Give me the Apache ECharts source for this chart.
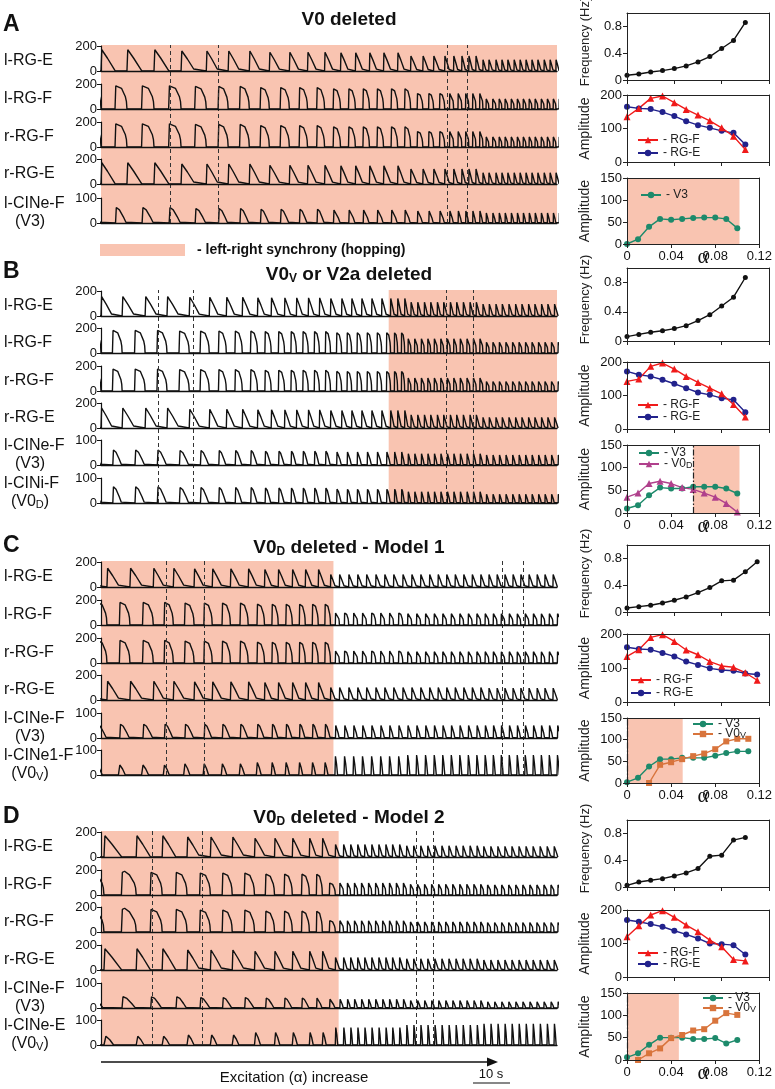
<!DOCTYPE html>
<html lang="en">
<head>
  <meta charset="UTF-8">
  <title>Excitation increase in deletion models</title>
  <style>
    body {
      margin: 0;
      background-color: #fff;
    }
  </style>
  <script src="https://cdn.jsdelivr.net/npm/echarts@6/dist/echarts.min.js"></script>
</head>
<body>
<div id="chart" style="width: 775px; height: 1089px;"></div>
<script>
  // ---------- summary plots (right column): values per alpha step ----------
  const alpha = [0, 0.01, 0.02, 0.03, 0.04, 0.05, 0.06, 0.07, 0.08, 0.09, 0.1, 0.11]

  const freqA = [0.07, 0.09, 0.12, 0.14, 0.17, 0.21, 0.27, 0.35, 0.47, 0.59, 0.86]
  const rgFA = [135, 160, 190, 197, 177, 157, 140, 123, 102, 77, 37]
  const rgEA = [165, 160, 158, 149, 137, 122, 110, 102, 93, 87, 52]
  const v3A = [0, 11, 39, 57, 55, 57, 59, 60, 60, 57, 36]

  const freqB = [0.06, 0.09, 0.12, 0.14, 0.17, 0.21, 0.28, 0.36, 0.48, 0.6, 0.87]
  const rgFB = [142, 149, 187, 197, 179, 157, 139, 122, 105, 73, 36]
  const rgEB = [172, 162, 157, 147, 135, 122, 109, 102, 92, 87, 50]
  const v3B = [10, 17, 39, 56, 54, 54, 58, 58, 58, 54, 43]
  const v0dB = [35, 44, 65, 70, 65, 56, 52, 44, 35, 21, 2]

  const freqC = [0.06, 0.08, 0.1, 0.135, 0.175, 0.225, 0.29, 0.365, 0.465, 0.475, 0.6, 0.75]
  const rgFC = [134, 154, 190, 198, 178, 153, 139, 119, 106, 102, 86, 64]
  const rgEC = [161, 156, 154, 144, 134, 119, 109, 99, 94, 92, 84, 81]
  const v3C = [2, 12, 38, 55, 55, 58, 58, 58, 63, 69, 73, 73]
  const v0vC = [null, null, 0, 42, 48, 55, 62, 68, 78, 96, 102, 102]

  const freqD = [0.025, 0.075, 0.1, 0.125, 0.165, 0.21, 0.275, 0.46, 0.475, 0.7, 0.74]
  const rgFD = [120, 153, 185, 198, 178, 155, 135, 110, 90, 52, 48]
  const rgED = [170, 165, 158, 150, 138, 127, 115, 100, 98, 95, 67]
  const v3D = [6, 15, 34, 50, 50, 50, 47, 47, 49, 37, 45]
  const v0vD = [null, 0, 15, 26, 49, 56, 66, 69, 88, 105, 101]

  // alpha range with left-right synchrony, and its border (dash-dot)
  const hopAlphaA = [0, 0.102]
  const hopAlphaB = [0.06, 0.102]
  const hopAlphaC = [0, 0.0505]
  const hopAlphaD = [0, 0.047]

  // ---------- traces (left): burst onsets in seconds ----------
  const T_MAX = 123
  const onsetA = [0, 7.0, 14.3, 21.6, 28.4, 34.3, 40.0, 45.4, 50.8, 55.7, 60.3, 64.6, 68.6, 72.4, 76.2, 80.0,
    83.5, 86.8, 89.7, 92.7, 95.1, 97.3, 99.2, 101.1, 103.0, 104.6, 106.5, 108.1, 109.7, 111.4, 113.0,
    114.6, 116.2, 117.8, 119.5, 121.1, 122.7]
  const onsetB = [0, 5.7, 11.9, 17.8, 23.8, 29.2, 33.8, 38.1, 42.2, 45.9, 49.5, 52.7, 55.9, 58.9, 61.9, 64.9,
    67.6, 70.3, 73.0, 75.7, 78.1, 80.0, 81.9, 83.6, 85.4, 87.2, 88.9, 90.7, 92.4, 94.2, 95.9, 97.7, 99.5,
    101.2, 103.0, 104.7, 106.5, 108.2, 110.0, 111.8, 113.5, 115.3, 117.0, 118.8, 120.5, 122.3]
  const onsetC = [1.6, 7.8, 14.1, 19.5, 25.1, 30.0, 34.9, 39.7, 44.1, 47.8, 51.6, 55.1, 58.6, 61.9, 64.3, 66.8,
    69.2, 71.6, 74.1, 76.5, 78.9, 81.4, 83.8, 86.2, 88.6, 90.9, 93.2, 95.5, 97.8, 100.1, 102.4, 104.6,
    106.8, 108.9, 111.1, 113.2, 115.4, 117.6, 119.7, 121.9]
  const onsetD = [0.8, 9.5, 16.5, 23.2, 29.5, 35.4, 41.4, 46.8, 51.6, 56.2, 59.7, 63.2, 65.4, 67.3, 69.2, 71.1,
    73.0, 74.9, 76.8, 78.6, 80.5, 82.4, 84.3, 86.2, 88.1, 90.0, 91.9, 93.8, 95.7, 97.6, 99.5, 101.4, 103.2,
    105.1, 107.0, 108.9, 110.8, 112.7, 114.6, 116.5, 118.4, 120.3, 122.2]

  // peak height of each trace row, one value per sixth of the record
  const levelsA = [
    [170, 160, 150, 145, 120, 90],
    [195, 190, 180, 170, 130, 85],
    [195, 190, 180, 170, 130, 85],
    [170, 160, 150, 145, 120, 90],
    [62, 58, 55, 52, 48, 40]
  ]
  const levelsB = [
    [155, 150, 145, 140, 110, 95],
    [190, 185, 180, 170, 120, 90],
    [185, 180, 175, 165, 110, 80],
    [160, 150, 145, 140, 105, 85],
    [60, 58, 55, 52, 45, 40],
    [65, 62, 60, 55, 45, 35]
  ]
  const levelsC = [
    [150, 145, 140, 100, 100, 100],
    [190, 185, 175, 100, 95, 95],
    [190, 185, 175, 100, 95, 95],
    [150, 145, 140, 100, 100, 95],
    [55, 55, 55, 50, 50, 50],
    [40, 45, 50, 75, 80, 80]
  ]
  const levelsD = [
    [170, 160, 150, 100, 90, 85],
    [190, 185, 175, 100, 90, 85],
    [190, 185, 175, 95, 85, 80],
    [170, 160, 150, 100, 90, 80],
    [45, 42, 40, 35, 30, 25],
    [35, 40, 50, 70, 80, 85]
  ]

  // time range with left-right synchrony (s) and the dashed markers
  const hopTraceA = [0, 123]
  const hopTraceB = [77.6, 123]
  const hopTraceC = [0, 62.7]
  const hopTraceD = [0, 64.1]
  const dashA = [18.6, 31.6, 93.3, 98.7]
  const dashB = [15.4, 24.9, 93.2, 100.5]
  const dashC = [17.6, 27.8, 108.1, 113.8]
  const dashD = [13.8, 27.3, 84.9, 89.7]

  // ---------- look ----------
  const FONT = "'Liberation Sans', Arial, sans-serif"
  const HOP = '#f9c4b1'
  const INK = '#111'

  // burst outline, as fraction of cycle (x) and of peak (y)
  const SHAPES = {
    E: [[0, 0], [0.03, 1], [0.25, 0.6], [0.5, 0.1], [0.55, 0]],
    F: [[0, 0], [0.03, 0.95], [0.1, 1], [0.25, 0.85], [0.4, 0.5], [0.44, 0.3], [0.46, 0]],
    V: [[0, 0], [0.03, 1], [0.15, 0.85], [0.3, 0.4], [0.4, 0.05], [0.42, 0]],
    S: [[0, 0], [0.06, 1], [0.18, 0.6], [0.3, 0]]
  }

  const panels = [
    {
      letter: 'A', letterY: 25, title: 'V0 deleted', titleY: 20, onsets: onsetA, levels: levelsA,
      hopT: hopTraceA, dashes: dashA, baselines: [71, 109, 147, 184, 223],
      rows: [
        ['l-RG-E', 'E', 0, 200], ['l-RG-F', 'F', 0.54, 200], ['r-RG-F', 'F', 0.54, 200],
        ['r-RG-E', 'E', 0, 200], [['l-CINe-F', '(V3)'], 'V', 0.56, 100]
      ],
      right: [[13, 80], [95, 162], [178, 244]],
      freq: freqA, rgF: rgFA, rgE: rgEA, low: [['V3', v3A]], hopA: hopAlphaA, hopLine: false,
      legAmp: [637, 140, 13], legLow: [640, 195, 13]
    },
    {
      letter: 'B', letterY: 272, title: 'V0{s|V} or V2a deleted', titleY: 275, onsets: onsetB, levels: levelsB,
      hopT: hopTraceB, dashes: dashB, baselines: [316, 353, 391, 428, 465, 503],
      rows: [
        ['l-RG-E', 'E', 0, 200], ['l-RG-F', 'F', 0.54, 200], ['r-RG-F', 'F', 0.54, 200],
        ['r-RG-E', 'E', 0, 200], [['l-CINe-F', '(V3)'], 'V', 0.56, 100],
        [['l-CINi-F', '(V0{s|D})'], 'V', 0.56, 100]
      ],
      right: [[268, 341], [362, 429], [445, 513]],
      freq: freqB, rgF: rgFB, rgE: rgEB, low: [['V3', v3B], ['V0D', v0dB]], hopA: hopAlphaB, hopLine: true,
      legAmp: [637, 405, 12], legLow: [638, 453, 11]
    },
    {
      letter: 'C', letterY: 546, title: 'V0{s|D} deleted - Model 1', titleY: 548, onsets: onsetC, levels: levelsC,
      hopT: hopTraceC, dashes: dashC, baselines: [587, 625, 663, 700, 738, 775],
      rows: [
        ['l-RG-E', 'E', 0, 200], ['l-RG-F', 'F', 0.54, 200], ['r-RG-F', 'F', 0.54, 200],
        ['r-RG-E', 'E', 0, 200], [['l-CINe-F', '(V3)'], 'V', 0.56, 100],
        [['l-CINe1-F', '(V0{s|V})'], 'S', 0.5, 100]
      ],
      right: [[545, 612], [634, 702], [718, 783]],
      freq: freqC, rgF: rgFC, rgE: rgEC, low: [['V3', v3C], ['V0V', v0vC]], hopA: hopAlphaC, hopLine: true,
      legAmp: [630, 680, 13], legLow: [692, 724, 10]
    },
    {
      letter: 'D', letterY: 817, title: 'V0{s|D} deleted - Model 2', titleY: 818, onsets: onsetD, levels: levelsD,
      hopT: hopTraceD, dashes: dashD, baselines: [857, 895, 932, 970, 1008, 1045],
      rows: [
        ['l-RG-E', 'E', 0, 200], ['l-RG-F', 'F', 0.54, 200], ['r-RG-F', 'F', 0.54, 200],
        ['r-RG-E', 'E', 0, 200], [['l-CINe-F', '(V3)'], 'V', 0.56, 100],
        [['l-CINe-E', '(V0{s|V})'], 'S', 0, 100]
      ],
      right: [[820, 887], [910, 977], [993, 1060]],
      freq: freqD, rgF: rgFD, rgE: rgED, low: [['V3', v3D], ['V0V', v0vD]], hopA: hopAlphaD, hopLine: true,
      legAmp: [637, 953, 11], legLow: [702, 998, 10]
    }
  ]

  const STYLE = {
    'Frequency': {color: INK, symbol: 'circle', size: 5},
    'RG-F': {color: '#f01a1a', symbol: 'triangle', size: 7},
    'RG-E': {color: '#22228c', symbol: 'circle', size: 6},
    'V3': {color: '#1d8a6b', symbol: 'circle', size: 6},
    'V0D': {color: '#b0408c', symbol: 'triangle', size: 7},
    'V0V': {color: '#d8743c', symbol: 'rect', size: 6}
  }

  function burstTrace(onsets, shape, shift, levels) {
    const tpl = SHAPES[shape]
    const pts = []
    const n = onsets.length
    for (let i = -1; i < n; i++) {
      let o, p
      if (i === -1) {
        p = onsets[1] - onsets[0]
        o = onsets[0] - p
      } else {
        o = onsets[i]
        p = i < n - 1 ? onsets[i + 1] - o : o - onsets[i - 1]
      }
      const start = o + shift * p
      const k = Math.max(0, Math.min(levels.length - 1, Math.floor(start / T_MAX * levels.length)))
      const amp = levels[k]
      tpl.forEach(([f, v]) => pts.push([+(start + f * p).toFixed(2), +(v * amp).toFixed(1)]))
    }
    return pts
  }

  const grid = [], xAxis = [], yAxis = [], series = [], legend = [], graphic = []
  const frameGrids = []

  function addGrid(g, x, y) {
    grid.push(g)
    const i = grid.length - 1
    xAxis.push(Object.assign({gridIndex: i}, x))
    yAxis.push(Object.assign({gridIndex: i}, y))
    return i
  }

  const hidden = {
    type: 'value', show: false, splitLine: {show: false}
  }
  const TRACE_LEFT = 101, TRACE_W = 456
  const RIGHT_LEFT = 627, RIGHT_W = 142
  const subRich = {s: {fontSize: 12, fontWeight: 'bold', fontFamily: FONT, verticalAlign: 'bottom', padding: [6, 0, 0, 0]}}

  panels.forEach(pn => {
    const b = pn.baselines
    // shaded epoch and dashed markers across all rows
    const bg = addGrid(
      {left: TRACE_LEFT, width: TRACE_W, top: b[0] - 26, height: b[b.length - 1] - b[0] + 26},
      Object.assign({min: 0, max: T_MAX}, hidden),
      Object.assign({min: 0, max: 1}, hidden)
    )
    series.push({
      type: 'line', xAxisIndex: bg, yAxisIndex: bg, data: [[0, -1]], symbol: 'none', silent: true, z: 1,
      lineStyle: {width: 0},
      markArea: {silent: true, itemStyle: {color: HOP, opacity: 1}, data: [[{xAxis: pn.hopT[0]}, {xAxis: pn.hopT[1]}]]},
      markLine: {
        silent: true, symbol: ['none', 'none'], label: {show: false},
        lineStyle: {color: '#333', width: 1, type: [4, 3]},
        data: pn.dashes.map(d => ({xAxis: d}))
      }
    })

    // trace rows
    pn.rows.forEach((row, r) => {
      const [label, shape, shift, max] = row
      const gi = addGrid(
        {left: TRACE_LEFT, width: TRACE_W, top: b[r] - 25, height: 25},
        {
          type: 'value', min: 0, max: T_MAX, z: 5,
          axisLine: {show: true, onZero: false, lineStyle: {color: INK, width: 1.3}},
          axisTick: {show: false}, axisLabel: {show: false}, splitLine: {show: false}
        },
        {
          type: 'value', min: 0, max: max, interval: max, z: 5,
          axisLine: {show: true, lineStyle: {color: INK, width: 1.2}},
          axisTick: {show: true, length: 4, lineStyle: {color: INK}},
          axisLabel: {fontSize: 13, color: INK, fontFamily: FONT, margin: 4},
          splitLine: {show: false}
        }
      )
      series.push({
        type: 'line', xAxisIndex: gi, yAxisIndex: gi, symbol: 'none', silent: true, z: 3,
        lineStyle: {color: INK, width: 1.4},
        data: burstTrace(pn.onsets, shape, shift, pn.levels[r])
      })
      if (Array.isArray(label)) {
        graphic.push({type: 'text', style: {text: label[0], x: 4, y: b[r] - 19, align: 'left', verticalAlign: 'middle',
          fontSize: 16, fontFamily: FONT, fill: INK}})
        graphic.push({type: 'text', style: {text: label[1], x: 30, y: b[r] - 1, align: 'center', verticalAlign: 'middle',
          fontSize: 16, fontFamily: FONT, fill: INK, rich: {s: {fontSize: 11, fontFamily: FONT, verticalAlign: 'bottom', padding: [6, 0, 0, 0]}}}})
      } else {
        graphic.push({type: 'text', style: {text: label, x: 4, y: b[r] - 10, align: 'left', verticalAlign: 'middle',
          fontSize: 16, fontFamily: FONT, fill: INK}})
      }
    })

    // panel letter and title
    graphic.push({type: 'text', style: {text: pn.letter, x: 3, y: pn.letterY, verticalAlign: 'middle',
      fontSize: 23, fontWeight: 'bold', fontFamily: FONT, fill: INK}})
    graphic.push({type: 'text', style: {text: pn.title, x: 349, y: pn.titleY, align: 'center', verticalAlign: 'middle',
      fontSize: 19, fontWeight: 'bold', fontFamily: FONT, fill: INK, rich: subRich}})

    // summary plots
    const nA = pn.freq.length
    const plots = [
      {name: 'Frequency (Hz)', nameSize: 13, nameShift: -5, max: 1, interval: 0.4, lines: [['Frequency', pn.freq]]},
      {name: 'Amplitude', nameSize: 14, nameShift: 0, max: 200, interval: 100, lines: [['RG-E', pn.rgE], ['RG-F', pn.rgF]]},
      {name: 'Amplitude', nameSize: 14, nameShift: 0, max: 150, interval: 50, lines: pn.low}
    ]
    plots.forEach((pl, k) => {
      const [t, bt] = pn.right[k]
      const last = k === 2
      const gi = addGrid(
        {left: RIGHT_LEFT, width: RIGHT_W, top: t, height: bt - t},
        {
          type: 'value', min: 0, max: 0.12, interval: 0.04, z: 5,
          axisLine: {show: true, onZero: false, lineStyle: {color: '#222'}},
          axisTick: {show: true, length: 4, lineStyle: {color: '#222'}},
          axisLabel: {show: last, fontSize: 13, color: INK, fontFamily: FONT, margin: 6,
            formatter: v => v === 0 ? '0' : v.toFixed(2)},
          splitLine: {show: false}
        },
        {
          type: 'value', min: 0, max: pl.max, interval: pl.interval, z: 5,
          axisLine: {show: true, lineStyle: {color: '#222'}},
          axisTick: {show: true, length: 4, lineStyle: {color: '#222'}},
          axisLabel: {fontSize: 13, color: INK, fontFamily: FONT, margin: 5, showMaxLabel: pl.max !== 1},
          splitLine: {show: false}
        }
      )
      frameGrids.push({gi: gi, ymax: pl.max})
      graphic.push({type: 'text', x: 585, y: (t + bt) / 2 + pl.nameShift, rotation: Math.PI / 2,
        style: {text: pl.name, align: 'center', verticalAlign: 'middle', fontSize: pl.nameSize, fontFamily: FONT, fill: '#222'}})
      if (last) {
        series.push({
          type: 'line', xAxisIndex: gi, yAxisIndex: gi, data: [[0, -10]], symbol: 'none', silent: true, z: 1,
          lineStyle: {width: 0},
          markArea: {silent: true, itemStyle: {color: HOP, opacity: 1}, data: [[{xAxis: pn.hopA[0]}, {xAxis: pn.hopA[1]}]]},
          markLine: pn.hopLine ? {
            silent: true, symbol: ['none', 'none'], label: {show: false},
            lineStyle: {color: '#222', width: 1.2, type: [6, 2, 1.5, 2]},
            data: [{xAxis: pn.hopA[0]}]
          } : undefined
        })
        graphic.push({type: 'text', style: {text: 'α', x: 703, y: bt + 13, align: 'center', verticalAlign: 'middle',
          fontSize: 21, fontFamily: "'Liberation Serif', 'DejaVu Serif', serif", fill: INK}})
      }
      pl.lines.forEach(([nm, vals]) => {
        const st = STYLE[nm]
        series.push({
          type: 'line', name: nm, xAxisIndex: gi, yAxisIndex: gi, z: 3,
          data: vals.slice(0, nA).map((v, i) => [alpha[i], v]),
          symbol: st.symbol, symbolSize: st.size, showSymbol: true,
          lineStyle: {color: st.color, width: 1.4}, itemStyle: {color: st.color}
        })
      })
    })

    // legends inside the amplitude plots
    const legNames = [['RG-F', 'RG-E'], pn.low.map(l => l[0])]
    ;[pn.legAmp, pn.legLow].forEach((lg, k) => {
      const [lx, cy, step] = lg
      legend.push({
        left: lx, top: cy - 6, orient: 'vertical', padding: 0, itemWidth: 20, itemHeight: 8,
        itemGap: step - 12, selectedMode: false, data: legNames[k],
        formatter: nm => '- ' + nm.replace(/^V0([DV])$/, 'V0{s|$1}'),
        textStyle: {fontSize: 12, lineHeight: 12, color: '#222', fontFamily: FONT,
          rich: {s: {fontSize: 9, fontFamily: FONT, color: '#222', verticalAlign: 'bottom', padding: [5, 0, 0, 0]}}}
      })
    })
  })

  // top and right edges of the summary-plot frames
  frameGrids.forEach(f => {
    xAxis.push({gridIndex: f.gi, type: 'value', position: 'top', min: 0, max: 0.12, z: 5,
      axisLine: {show: true, onZero: false, lineStyle: {color: '#222'}},
      axisTick: {show: false}, axisLabel: {show: false}, splitLine: {show: false}})
    yAxis.push({gridIndex: f.gi, type: 'value', position: 'right', min: 0, max: f.ymax, z: 5,
      axisLine: {show: true, onZero: false, lineStyle: {color: '#222'}},
      axisTick: {show: false}, axisLabel: {show: false}, splitLine: {show: false}})
  })

  // hopping legend under panel A
  graphic.push({type: 'rect', shape: {x: 100, y: 244, width: 85, height: 12}, style: {fill: HOP}})
  graphic.push({type: 'text', style: {text: '- left-right synchrony (hopping)', x: 197, y: 250, verticalAlign: 'middle',
    fontSize: 14, fontWeight: 'bold', fontFamily: FONT, fill: INK}})

  // excitation arrow and scale bar
  graphic.push({type: 'line', shape: {x1: 101, y1: 1062, x2: 488, y2: 1062}, style: {stroke: INK, lineWidth: 1.5}})
  graphic.push({type: 'polygon', shape: {points: [[487, 1057.5], [498, 1062], [487, 1066.5]]}, style: {fill: INK}})
  graphic.push({type: 'text', style: {text: 'Excitation (α) increase', x: 294, y: 1078, align: 'center', verticalAlign: 'middle',
    fontSize: 15, fontFamily: FONT, fill: INK}})
  graphic.push({type: 'text', style: {text: '10 s', x: 491, y: 1074, align: 'center', verticalAlign: 'middle',
    fontSize: 13, fontFamily: FONT, fill: INK}})
  graphic.push({type: 'line', shape: {x1: 473, y1: 1083, x2: 510, y2: 1083}, style: {stroke: INK, lineWidth: 1.2}})

  const chart = echarts.init(document.getElementById('chart'))
  chart.setOption({
    animation: false,
    backgroundColor: '#fff',
    grid: grid,
    xAxis: xAxis,
    yAxis: yAxis,
    legend: legend,
    series: series,
    graphic: graphic
  })
</script>
</body>
</html>
